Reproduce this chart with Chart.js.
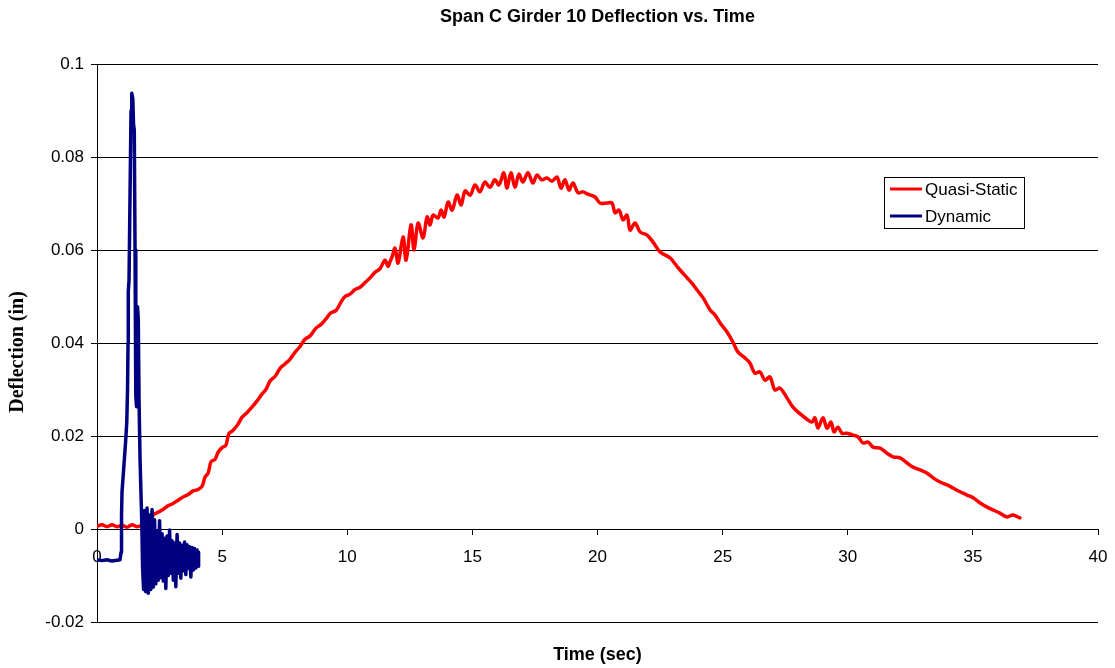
<!DOCTYPE html>
<html>
<head>
<meta charset="utf-8">
<script src="https://cdn.jsdelivr.net/npm/chart.js@4/dist/chart.umd.min.js"></script>
<style>
html,body{margin:0;padding:0;background:#fff;}
canvas{display:block;}
</style>
</head>
<body>
<canvas id="c" width="1115" height="668"></canvas>
<script>
const chartTitle = 'Span C Girder 10 Deflection vs. Time';
const xAxisTitle = 'Time (sec)';
const yAxisTitle = 'Deflection (in)';
const seriesNames = ['Quasi-Static', 'Dynamic'];
const xTickValues = [0, 5, 10, 15, 20, 25, 30, 35, 40];
const xTickLabels = ['0', '5', '10', '15', '20', '25', '30', '35', '40'];
const yTickValues = [-0.02, 0, 0.02, 0.04, 0.06, 0.08, 0.1];
const yTickLabels = ['-0.02', '0', '0.02', '0.04', '0.06', '0.08', '0.1'];

const qsTime = [0.00,0.20,0.40,0.60,0.80,1.00,1.20,1.40,1.60,1.80,2.00,2.12,2.24,2.44,2.64,2.84,3.04,3.24,3.44,3.64,3.84,4.04,4.20,4.32,4.44,4.56,4.72,4.84,5.00,5.15,5.27,5.43,5.63,5.79,5.99,6.19,6.39,6.59,6.75,6.91,7.11,7.31,7.51,7.71,7.91,8.11,8.31,8.51,8.75,8.95,9.15,9.35,9.55,9.75,9.91,10.11,10.31,10.51,10.71,10.91,11.11,11.31,11.51,11.63,11.71,11.79,11.91,12.03,12.23,12.35,12.55,12.67,12.83,13.03,13.19,13.31,13.43,13.63,13.75,13.87,14.03,14.19,14.39,14.55,14.71,14.91,15.11,15.30,15.50,15.70,15.90,16.06,16.26,16.38,16.54,16.70,16.86,17.02,17.22,17.42,17.58,17.78,17.98,18.18,18.38,18.54,18.70,18.86,19.02,19.22,19.42,19.62,19.90,20.10,20.38,20.58,20.70,20.86,21.02,21.18,21.30,21.50,21.70,21.98,22.22,22.50,22.90,23.10,23.30,23.58,23.78,23.98,24.22,24.50,24.70,24.90,25.17,25.41,25.61,25.89,26.09,26.29,26.49,26.69,26.89,27.09,27.29,27.57,27.81,28.09,28.37,28.57,28.69,28.81,29.01,29.17,29.33,29.45,29.61,29.77,29.97,30.21,30.41,30.61,30.81,31.01,31.29,31.57,31.81,32.09,32.37,32.61,32.89,33.17,33.41,33.69,33.97,34.21,34.49,34.77,35.01,35.29,35.57,35.80,36.08,36.36,36.60,36.88];
const qsDefl = [0.0006,0.0009,0.0005,0.0009,0.0005,0.0008,0.0004,0.0009,0.0005,0.0008,0.0004,0.0007,0.0030,0.0036,0.0042,0.0050,0.0055,0.0062,0.0069,0.0074,0.0082,0.0085,0.0092,0.0112,0.0120,0.0145,0.0150,0.0165,0.0175,0.0180,0.0205,0.0212,0.0225,0.0240,0.0250,0.0262,0.0275,0.0290,0.0300,0.0318,0.0328,0.0345,0.0355,0.0365,0.0380,0.0392,0.0408,0.0415,0.0432,0.0440,0.0452,0.0465,0.0470,0.0488,0.0500,0.0505,0.0515,0.0520,0.0530,0.0540,0.0552,0.0560,0.0578,0.0565,0.0575,0.0585,0.0604,0.0572,0.0628,0.0578,0.0654,0.0600,0.0658,0.0626,0.0671,0.0654,0.0675,0.0669,0.0686,0.0671,0.0703,0.0686,0.0718,0.0697,0.0727,0.0718,0.0740,0.0725,0.0746,0.0735,0.0751,0.0740,0.0766,0.0733,0.0766,0.0735,0.0763,0.0746,0.0766,0.0744,0.0761,0.0751,0.0755,0.0748,0.0757,0.0733,0.0751,0.0729,0.0744,0.0723,0.0725,0.0720,0.0714,0.0701,0.0701,0.0701,0.0680,0.0686,0.0665,0.0675,0.0643,0.0658,0.0639,0.0632,0.0617,0.0596,0.0583,0.0570,0.0557,0.0540,0.0528,0.0514,0.0497,0.0471,0.0460,0.0443,0.0424,0.0402,0.0381,0.0368,0.0357,0.0335,0.0338,0.0320,0.0327,0.0299,0.0303,0.0282,0.0262,0.0248,0.0236,0.0230,0.0239,0.0217,0.0239,0.0217,0.0230,0.0209,0.0219,0.0206,0.0206,0.0202,0.0198,0.0185,0.0187,0.0176,0.0174,0.0163,0.0155,0.0153,0.0142,0.0133,0.0127,0.0120,0.0110,0.0101,0.0095,0.0088,0.0080,0.0073,0.0067,0.0056,0.0047,0.0041,0.0034,0.0026,0.0030,0.0024];

const dynTime = [0.00,0.20,0.40,0.60,0.80,0.92,0.96,0.98,1.00,1.08,1.14,1.19,1.22,1.24,1.25,1.28,1.32,1.36,1.39,1.43,1.46,1.49,1.52,1.55,1.58,1.62,1.65,1.68,1.72,1.79,1.82,1.86,1.90,1.95,2.00,2.05,2.10,2.15,2.20,2.25,2.30,2.35,2.40,2.45,2.50,2.55,2.60,2.65,2.70,2.75,2.80,2.85,2.90,2.95,3.00,3.05,3.10,3.15,3.20,3.25,3.30,3.35,3.40,3.45,3.50,3.55,3.60,3.65,3.70,3.75,3.80,3.85,3.90,3.95,4.00,4.05,4.06];
const dynDefl = [-0.0066,-0.0068,-0.0066,-0.0069,-0.0067,-0.0066,-0.0050,0.0030,0.0080,0.0140,0.0185,0.0230,0.0300,0.0400,0.0510,0.0535,0.0720,0.0900,0.0937,0.0925,0.0870,0.0858,0.0600,0.0285,0.0263,0.0478,0.0450,0.0277,0.0150,0.0013,-0.0080,-0.0130,0.0040,-0.0135,0.0045,-0.0138,0.0030,-0.0130,0.0042,-0.0125,0.0020,-0.0118,-0.0005,-0.0110,0.0018,-0.0105,-0.0010,-0.0112,-0.0020,-0.0128,-0.0015,-0.0100,-0.0002,-0.0095,-0.0025,-0.0110,-0.0030,-0.0124,-0.0012,-0.0095,-0.0030,-0.0106,-0.0035,-0.0090,-0.0028,-0.0098,-0.0034,-0.0085,-0.0038,-0.0103,-0.0040,-0.0088,-0.0042,-0.0084,-0.0045,-0.0080,-0.0050];

const seriesColors = ['#FF0000', '#000080'];

function pairs(xs, ys) { return xs.map((x, i) => ({x: x, y: ys[i]})); }

const FONT = 'Arial, "Liberation Sans", sans-serif';
const SERIF = '"Times New Roman", "Liberation Serif", serif';

const overlayPlugin = {
  id: 'overlay',
  afterDraw(chart) {
    const ctx = chart.ctx;
    const ca = chart.chartArea;
    ctx.save();
    // chart title
    ctx.fillStyle = '#000';
    ctx.font = 'bold 18px ' + FONT;
    ctx.textAlign = 'center';
    ctx.textBaseline = 'middle';
    ctx.fillText(chartTitle, (ca.left + ca.right) / 2, 17);
    // y axis title
    ctx.save();
    ctx.translate(18, 352);
    ctx.rotate(-Math.PI / 2);
    ctx.font = 'bold 20px ' + SERIF;
    ctx.fillText(yAxisTitle, 0, 0);
    ctx.restore();
    // legend
    const bx = 884.5, by = 177.5, bw = 140, bh = 51;
    ctx.fillStyle = '#fff';
    ctx.fillRect(bx, by, bw, bh);
    ctx.strokeStyle = '#000';
    ctx.lineWidth = 1;
    ctx.strokeRect(bx, by, bw, bh);
    ctx.font = '17px ' + FONT;
    ctx.textAlign = 'left';
    const rows = [189, 216];
    chart.data.datasets.forEach((ds, i) => {
      const yy = rows[i];
      ctx.strokeStyle = ds.borderColor;
      ctx.lineWidth = 3;
      ctx.beginPath();
      ctx.moveTo(890, yy);
      ctx.lineTo(922, yy);
      ctx.stroke();
      ctx.fillStyle = '#000';
      ctx.fillText(ds.label, 925, yy + 1);
    });
    ctx.restore();
  }
};

new Chart(document.getElementById('c'), {
  type: 'line',
  data: {
    datasets: [
      { label: seriesNames[0], data: pairs(qsTime, qsDefl), borderColor: seriesColors[0], backgroundColor: seriesColors[0], borderWidth: 3.5, pointRadius: 0, tension: 0.35, borderJoinStyle: 'round', borderCapStyle: 'round', order: 1, xAxisID: 'x', yAxisID: 'y' },
      { label: seriesNames[1], data: pairs(dynTime, dynDefl), borderColor: seriesColors[1], backgroundColor: seriesColors[1], borderWidth: 3.5, pointRadius: 0, tension: 0, borderJoinStyle: 'round', borderCapStyle: 'round', order: 0, xAxisID: 'x', yAxisID: 'y' }
    ]
  },
  options: {
    responsive: false,
    animation: false,
    events: [],
    layout: { padding: { top: 64, right: 17, left: 0, bottom: 0 } },
    plugins: { legend: { display: false }, title: { display: false }, tooltip: { enabled: false } },
    scales: {
      x: {
        type: 'linear', position: 'bottom', min: 0, max: 40,
        ticks: { display: false },
        grid: { display: false },
        border: { display: false },
        title: { display: true, text: xAxisTitle, color: '#000', font: { family: FONT, size: 18, weight: 'bold' }, padding: { top: 0, bottom: 2 } },
        afterFit(scale) { scale.height = 46; scale.paddingLeft = 0; scale.paddingRight = 0; }
      },
      x0: {
        type: 'linear', position: { y: 0 }, min: 0, max: 40,
        afterBuildTicks(scale) { scale.ticks = xTickValues.map(v => ({ value: v })); },
        ticks: { color: '#000', font: { family: FONT, size: 17 }, padding: 13, maxRotation: 0, autoSkip: false, callback: (v, i) => xTickLabels[i] },
        grid: { drawOnChartArea: false, drawTicks: true, tickLength: 5, color: '#000', lineWidth: 1 },
        border: { display: true, color: '#000', width: 1 },
        afterFit(scale) { scale.paddingLeft = 0; scale.paddingRight = 0; scale.paddingTop = 0; scale.paddingBottom = 0; }
      },
      y: {
        type: 'linear', position: 'left', min: -0.02, max: 0.1,
        afterBuildTicks(scale) { scale.ticks = yTickValues.map(v => ({ value: v })); },
        ticks: { color: '#000', font: { family: FONT, size: 17 }, padding: 7, callback: (v, i) => yTickLabels[i] },
        grid: { color: '#000', lineWidth: 1, drawTicks: true, tickLength: 6, tickColor: '#000' },
        border: { display: true, color: '#000', width: 1 },
        title: { display: false },
        afterFit(scale) { scale.width = 97; scale.paddingTop = 0; scale.paddingBottom = 0; }
      }
    }
  },
  plugins: [overlayPlugin]
});
</script>
</body>
</html>
